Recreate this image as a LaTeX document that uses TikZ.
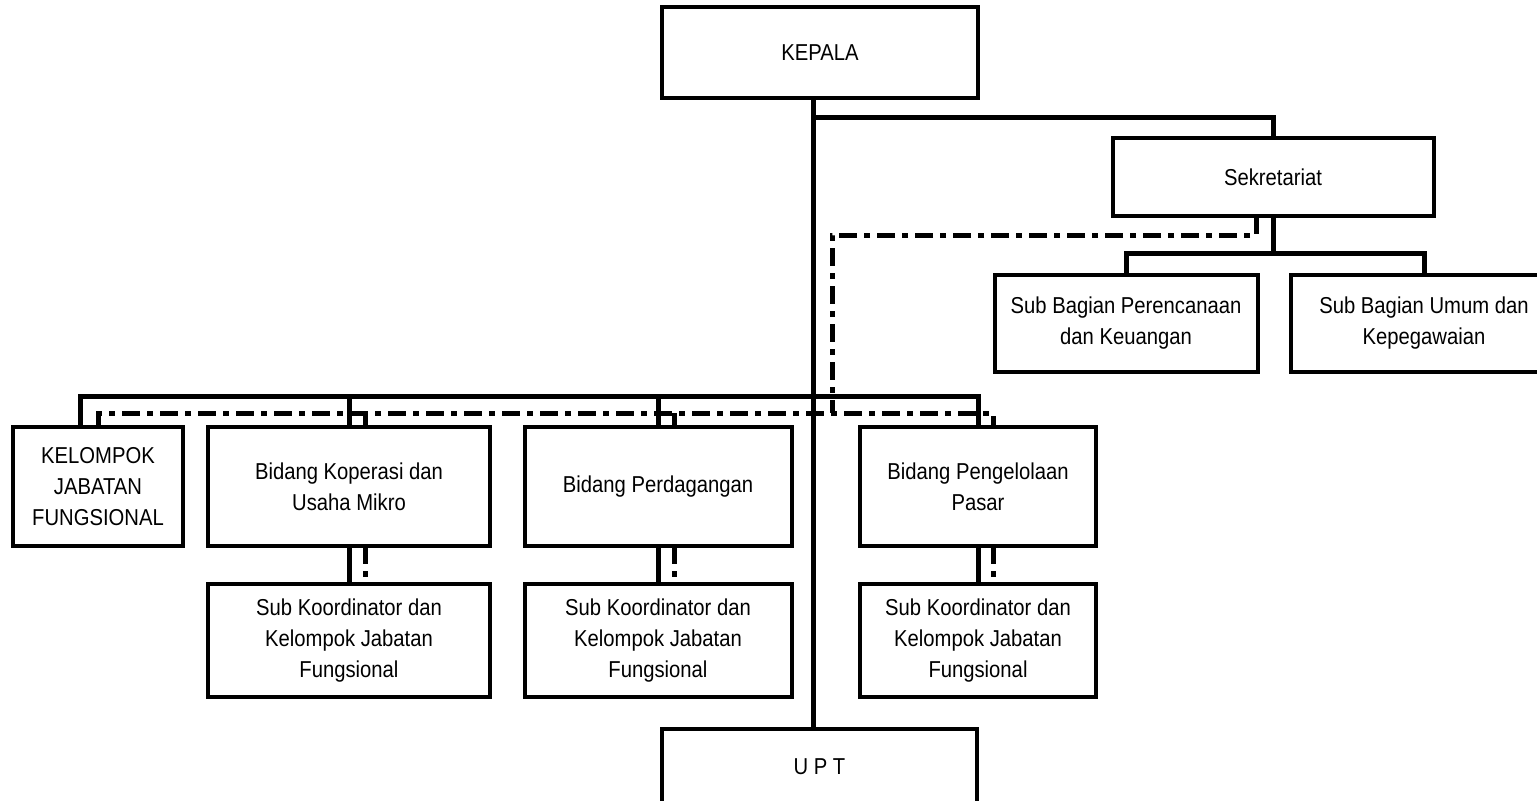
\documentclass[tikz,border=0pt]{standalone}
\usepackage{fontspec}
\setmainfont{Liberation Sans}[FakeStretch=0.88]
\begin{document}
\begin{tikzpicture}[x=0.5pt, y=-0.5pt,
    box/.style={draw, line width=2pt, inner sep=0pt, outer sep=0pt, align=center,
      font=\fontsize{11.5}{15.5}\selectfont},
    bidang/.style={box, minimum height=59.5pt},
    subko/.style={box, minimum height=56.5pt},
    conn/.style={line width=2.5pt},
    dashconn/.style={line width=2.5pt, dash pattern=on 9pt off 3.5pt on 3pt off 3.5pt}]
    \useasboundingbox (0,0) rectangle (1537,800);
    \node[box, minimum width=158pt, minimum height=45.5pt] (kepala) at (820,52.5) {KEPALA};
    \node[box, minimum width=160.5pt, minimum height=39pt] (sekretariat) at (1273,177) {Sekretariat};
    \node[box, minimum width=131.5pt, minimum height=48.5pt] (subren) at (1126,323.5) {Sub Bagian Perencanaan\\dan Keuangan};
    \node[box, minimum width=133.5pt, minimum height=48.5pt] (subumum) at (1424,323.5) {Sub Bagian Umum dan\\Kepegawaian};
    \node[bidang, minimum width=85pt] (kjf) at (98,486.5) {KELOMPOK\\JABATAN\\FUNGSIONAL};
    \node[bidang, minimum width=141pt] (bkop) at (349,486.5) {Bidang Koperasi dan\\Usaha Mikro};
    \node[bidang, minimum width=133.5pt] (bdag) at (658,486.5) {Bidang Perdagangan};
    \node[bidang, minimum width=118pt] (bpas) at (978,486.5) {Bidang Pengelolaan\\Pasar};
    \node[subko, minimum width=141pt] (skop) at (349,640.5) {Sub Koordinator dan\\Kelompok Jabatan\\Fungsional};
    \node[subko, minimum width=133.5pt] (sdag) at (658,640.5) {Sub Koordinator dan\\Kelompok Jabatan\\Fungsional};
    \node[subko, minimum width=118pt] (spas) at (978,640.5) {Sub Koordinator dan\\Kelompok Jabatan\\Fungsional};
    \node[box, minimum width=157.5pt, minimum height=38pt] (upt) at (819.5,767) {U P T};
    % solid lines
    \coordinate (trunk) at (813,117);
    \coordinate (sekbus) at (1273,253);
    \coordinate (bus) at (813,396);
    \draw[conn] (kepala.south -| trunk) -- (upt.north -| trunk);
    \draw[conn] (trunk) -| (sekretariat.north);
    \draw[conn] (sekretariat.south) -- (sekbus);
    \draw[conn] (subren.north) |- (sekbus) -| (subumum.north);
    \draw[conn] ([xshift=-9pt]kjf.north) |- (bus) -| (bpas.north);
    \draw[conn] (bkop.north) -- (bkop.north |- bus);
    \draw[conn] (bdag.north) -- (bdag.north |- bus);
    \draw[conn] (bkop.south) -- (skop.north);
    \draw[conn] (bdag.south) -- (sdag.north);
    \draw[conn] (bpas.south) -- (spas.north);
    % dash-dot lines
    \coordinate (dashtop) at (832,235);
    \coordinate (dashbus) at (832,413);
    \draw[dashconn] ([xshift=-8.5pt]sekretariat.south) |- (dashtop) -- (dashbus);
    \draw[dashconn] (kjf.north) |- (dashbus) -| ([xshift=7.5pt]bpas.north);
    \draw[dashconn] ([xshift=8pt]bkop.north) -- ([xshift=8pt]bkop.north |- dashbus);
    \draw[dashconn] ([xshift=8pt]bdag.north) -- ([xshift=8pt]bdag.north |- dashbus);
    \draw[dashconn] ([xshift=8pt]bkop.south) -- ([xshift=8pt]skop.north);
    \draw[dashconn] ([xshift=8pt]bdag.south) -- ([xshift=8pt]sdag.north);
    \draw[dashconn] ([xshift=7.5pt]bpas.south) -- ([xshift=7.5pt]spas.north);
\end{tikzpicture}
\end{document}
